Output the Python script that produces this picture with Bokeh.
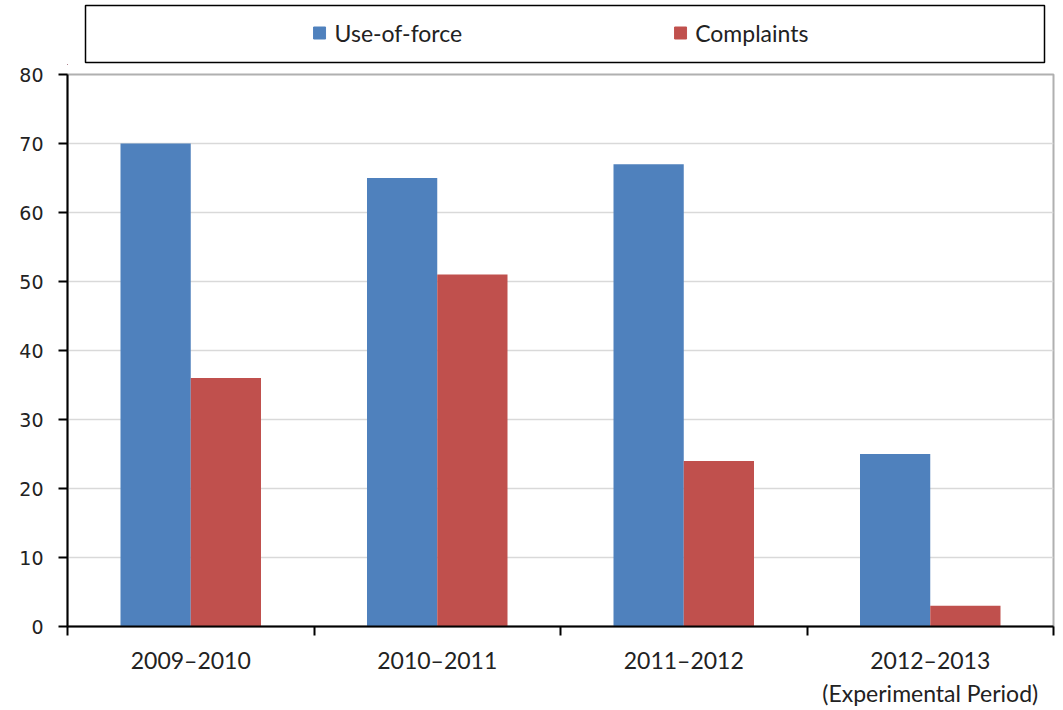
from bokeh.plotting import figure
from bokeh.layouts import column
from bokeh.models import (ColumnDataSource, Range1d, FixedTicker, Legend, LegendItem,
                          BoxAnnotation)
from bokeh.transform import dodge
from bokeh.embed import file_html
from bokeh.resources import INLINE

# Yearly counts
periods = ["2009–2010", "2010–2011", "2011–2012", "2012–2013\n(Experimental Period)"]
use_of_force = [70, 65, 67, 25]
complaints = [36, 51, 24, 3]
y_ticks = list(range(0, 90, 10))

BLUE = "#4f81bd"
RED = "#c0504d"
LABEL_FONT = "Lato"
W = 1063
BORDER_L, BORDER_R = 67, 10

centers = [i + 0.5 for i in range(len(periods))]
source = ColumnDataSource(dict(x=centers, force=use_of_force, complaints=complaints))

# ---- legend strip (same side borders as the chart so the layout keeps them) ----
LG_H = 65
lg = figure(width=W, height=LG_H, x_range=Range1d(BORDER_L, W - BORDER_R),
            y_range=Range1d(0, LG_H), toolbar_location=None, output_backend="svg",
            x_axis_location=None, y_axis_location=None,
            min_border_left=BORDER_L, min_border_right=BORDER_R,
            min_border_top=0, min_border_bottom=0)
lg.grid.visible = False
lg.outline_line_color = None
# boxed frame round the key, in pixel-like data units of this strip
lg.add_layout(BoxAnnotation(left=85, right=1044, bottom=LG_H - 62, top=LG_H - 5,
                            fill_color=None, fill_alpha=0, line_color="black",
                            line_alpha=1, line_width=1.5))
# swatch renderers sit outside the visible range; only their legend glyphs show
r_force_key = lg.vbar(x=[-100], top=[1], width=1, color=BLUE)
r_comp_key = lg.vbar(x=[-100], top=[1], width=1, color=RED)
legend = Legend(items=[LegendItem(label="Use-of-force", renderers=[r_force_key]),
                       LegendItem(label="Complaints", renderers=[r_comp_key])],
                location="center", orientation="horizontal",
                glyph_width=15, glyph_height=15, label_standoff=8, spacing=210,
                border_line_color=None, background_fill_alpha=0,
                label_text_font=LABEL_FONT, label_text_font_size="23px",
                label_text_color="#222222", padding=0, margin=0)
lg.add_layout(legend, "center")

# ---- main chart ----
p = figure(width=W, height=710 - LG_H, x_range=Range1d(0, len(periods)), y_range=Range1d(0, 80),
           toolbar_location=None, output_backend="svg",
           min_border_left=BORDER_L, min_border_right=BORDER_R, min_border_top=9,
           min_border_bottom=84)

p.vbar(x=dodge("x", -0.1425), top="force", width=0.285, source=source,
       fill_color=BLUE, line_color=None)
p.vbar(x=dodge("x", 0.1425), top="complaints", width=0.285, source=source,
       fill_color=RED, line_color=None)

p.outline_line_color = "#b0b0b0"
p.outline_line_width = 2

p.xgrid.visible = False
p.ygrid.grid_line_color = "#d9d9d9"
p.ygrid.grid_line_width = 1.5

# x axis: labels at category centres, tick marks at category boundaries
xa = p.xaxis[0]
xa.ticker = FixedTicker(ticks=centers, minor_ticks=list(range(len(periods) + 1)))
xa.major_label_overrides = {c: lab for c, lab in zip(centers, periods)}
xa.major_tick_out = 0
xa.major_tick_in = 0
xa.minor_tick_out = 9
xa.minor_tick_in = 0
xa.minor_tick_line_color = "black"
xa.minor_tick_line_width = 2
xa.axis_line_color = "black"
xa.axis_line_width = 2
xa.major_label_standoff = 10
xa.major_label_text_font = LABEL_FONT
xa.major_label_text_font_size = "23px"
xa.major_label_text_color = "#222222"

ya = p.yaxis[0]
ya.ticker = FixedTicker(ticks=y_ticks)
ya.minor_tick_line_color = None
ya.major_tick_out = 9
ya.major_tick_in = 0
ya.major_tick_line_color = "black"
ya.major_tick_line_width = 2
ya.axis_line_color = "black"
ya.axis_line_width = 2
ya.major_label_standoff = 15
ya.major_label_text_font = "DejaVu Sans"
ya.major_label_text_font_size = "19px"
ya.major_label_text_color = "#222222"

layout = column(lg, p, spacing=0)
open("out.html", "w").write(file_html(layout, INLINE))
